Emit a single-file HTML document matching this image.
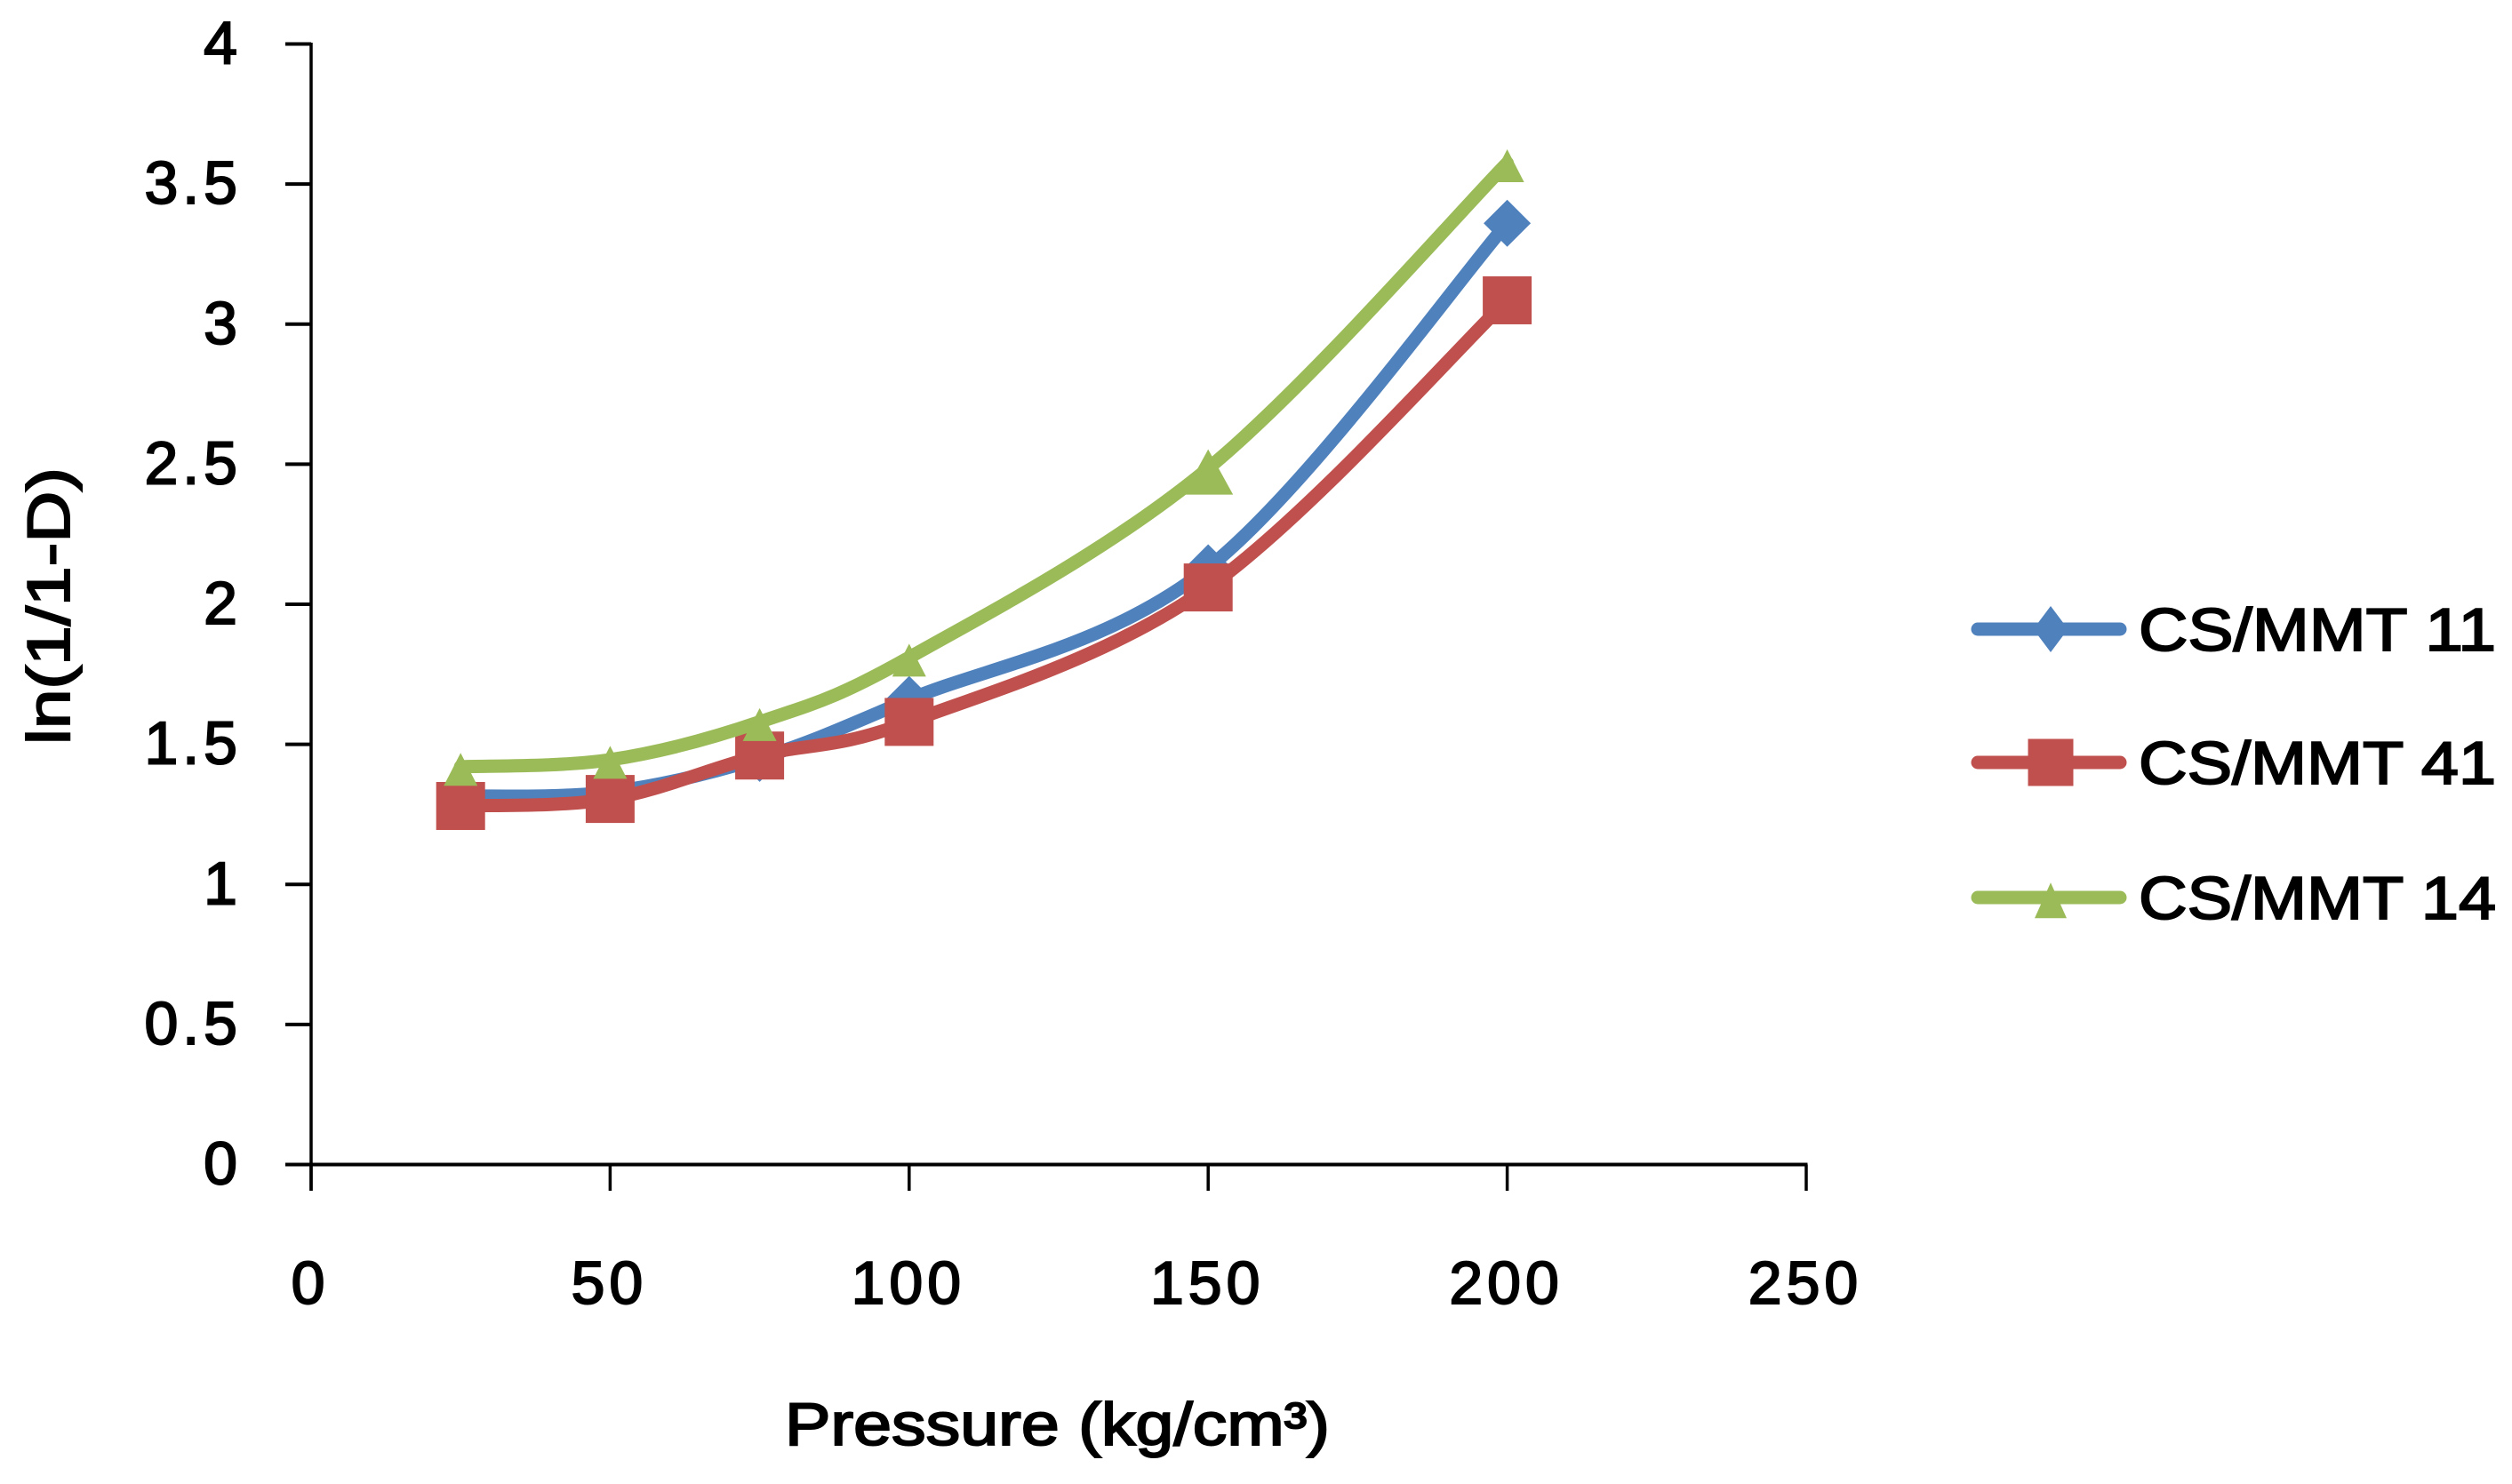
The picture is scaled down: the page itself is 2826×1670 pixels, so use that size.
<!DOCTYPE html>
<html lang="en">
<head>
<meta charset="utf-8">
<title>ln(1/1-D) vs Pressure</title>
<style>
html,body{margin:0;padding:0;background:#fff;width:2826px;height:1670px;overflow:hidden}
svg{display:block}
text{font-family:"Liberation Sans",sans-serif;fill:#000;stroke:#000;stroke-width:2px}
.tick-label{letter-spacing:5px}
</style>
</head>
<body>
<svg id="chart" xmlns="http://www.w3.org/2000/svg" width="2826" height="1670" viewBox="0 0 2826 1670">
  <rect x="0" y="0" width="2826" height="1670" fill="#ffffff"/>
  <g id="axes"></g>
  <g id="series"></g>
  <g id="legend"></g>
  <text x="883" y="1626" font-size="68" textLength="613" lengthAdjust="spacingAndGlyphs">Pressure (kg/cm³)</text>
  <text transform="translate(78,838) rotate(-90)" x="0" y="0" font-size="68" textLength="312" lengthAdjust="spacingAndGlyphs">ln(1/1-D)</text>
</svg>
<script>
const pressures = [25, 50, 75, 100, 150, 200];
const cs11Values = [1.315, 1.33, 1.45, 1.66, 2.13, 3.36];
const cs41Values = [1.28, 1.305, 1.46, 1.58, 2.06, 3.085];
const cs14Values = [1.42, 1.445, 1.58, 1.81, 2.485, 3.575];
const xTickLabels = [0, 50, 100, 150, 200, 250];
const yTickLabels = [0, 0.5, 1, 1.5, 2, 2.5, 3, 3.5, 4];
const seriesNames = ['CS/MMT 11', 'CS/MMT 41', 'CS/MMT 14'];

const NS = 'http://www.w3.org/2000/svg';
const X0 = 350, X1 = 2032, Y0 = 1310.5, Y1 = 49.5;
const XMAX = 250, YMAX = 4;
function xScale(v) { return X0 + (v / XMAX) * (X1 - X0); }
function yScale(v) { return Y0 - (v / YMAX) * (Y0 - Y1); }

function make(tag, attrs, parent) {
  const el = document.createElementNS(NS, tag);
  for (const k in attrs) el.setAttribute(k, attrs[k]);
  parent.appendChild(el);
  return el;
}

const axes = document.getElementById('axes');
const AX = '#000000';

const yAxis = make('line', { x1: X0, x2: X0, y1: Y1 - 1.5, y2: 1340, stroke: AX, 'stroke-width': 3.5 }, axes);



const xAxis = make('line', { x1: 321, x2: X1 + 1.5, y1: Y0, y2: Y0, stroke: AX, 'stroke-width': 4 }, axes);



yTickLabels.forEach(function (t) {
  const y = yScale(t);
  const tick = make('line', { x1: 321, x2: X0, y1: y, y2: y, stroke: AX, 'stroke-width': 4 }, axes);
  
  
  const label = make('text', { class: 'tick-label', x: 272, y: y + 22, 'font-size': 68, 'text-anchor': 'end' }, axes);
  label.textContent = String(t);
  
  
});

xTickLabels.forEach(function (t) {
  const x = xScale(t);
  const tick = make('line', { x1: x, x2: x, y1: Y0, y2: 1340, stroke: AX, 'stroke-width': 3.5 }, axes);
  
  
  const label = make('text', { class: 'tick-label', x: x - 1, y: 1467, 'font-size': 68, 'text-anchor': 'middle' }, axes);
  label.textContent = String(t);
  
  
});

function smoothPath(pts) {
  let d = 'M' + pts[0][0] + ' ' + pts[0][1];
  for (let i = 0; i < pts.length - 1; i++) {
    const p0 = pts[Math.max(i - 1, 0)], p1 = pts[i], p2 = pts[i + 1], p3 = pts[Math.min(i + 2, pts.length - 1)];
    const c1x = p1[0] + (p2[0] - p0[0]) / 6, c1y = p1[1] + (p2[1] - p0[1]) / 6;
    const c2x = p2[0] - (p3[0] - p1[0]) / 6, c2y = p2[1] - (p3[1] - p1[1]) / 6;
    d += ' C' + c1x + ' ' + c1y + ' ' + c2x + ' ' + c2y + ' ' + p2[0] + ' ' + p2[1];
  }
  return d;
}

function marker(kind, cx, cy, w, h, color, parent) {
  if (kind === 'square') {
    return make('rect', { x: cx - w / 2, y: cy - h / 2, width: w, height: h, fill: color }, parent);
  }
  if (kind === 'diamond') {
    return make('polygon', { points: [cx, cy - h / 2, cx + w / 2, cy, cx, cy + h / 2, cx - w / 2, cy].join(' '), fill: color }, parent);
  }
  const top = cy - h * 0.42, bottom = cy + h * 0.58;
  return make('polygon', { points: [cx, top, cx + w / 2, bottom, cx - w / 2, bottom].join(' '), fill: color }, parent);
}

const seriesGroup = document.getElementById('series');
const seriesStyle = [
  { values: cs11Values, color: '#4F81BD', kind: 'diamond', w: 53, h: 53 },
  { values: cs41Values, color: '#C0504D', kind: 'square', w: 55, h: 54 },
  { values: cs14Values, color: '#9BBB59', kind: 'triangle', w: 38, h: 37 }
];

seriesStyle.forEach(function (s, si) {
  const g = make('g', {}, seriesGroup);
  
  
  const pts = pressures.map(function (p, i) { return [xScale(p), yScale(s.values[i])]; });
  const line = make('path', { d: smoothPath(pts), fill: 'none', stroke: s.color, 'stroke-width': 15, 'stroke-linejoin': 'round', 'stroke-linecap': 'round' }, g);
  
  
  pts.forEach(function (pt, i) {
    const big = s.kind === 'triangle' && pressures[i] === 150;
    const m = marker(s.kind, pt[0], pt[1], big ? 56 : s.w, big ? 51 : s.h, s.color, g);
    
    
  });
});

const legend = document.getElementById('legend');
const legendRowsY = [708, 858, 1010];
const legendMarkers = [
  { w: 39, h: 52 },
  { w: 51, h: 53 },
  { w: 36, h: 40 }
];
seriesStyle.forEach(function (s, i) {
  const y = legendRowsY[i];
  const g = make('g', {}, legend);
  
  
  const ln = make('line', { x1: 2225, x2: 2385, y1: y, y2: y, stroke: s.color, 'stroke-width': 15, 'stroke-linecap': 'round' }, g);
  
  
  const m = marker(s.kind, 2307, y, legendMarkers[i].w, legendMarkers[i].h, s.color, g);
  
  
  const t = make('text', { x: 2406, y: y + 24, 'font-size': 68, textLength: 402, lengthAdjust: 'spacingAndGlyphs' }, g);
  t.textContent = seriesNames[i];
  
  
});
</script>
</body>
</html>
